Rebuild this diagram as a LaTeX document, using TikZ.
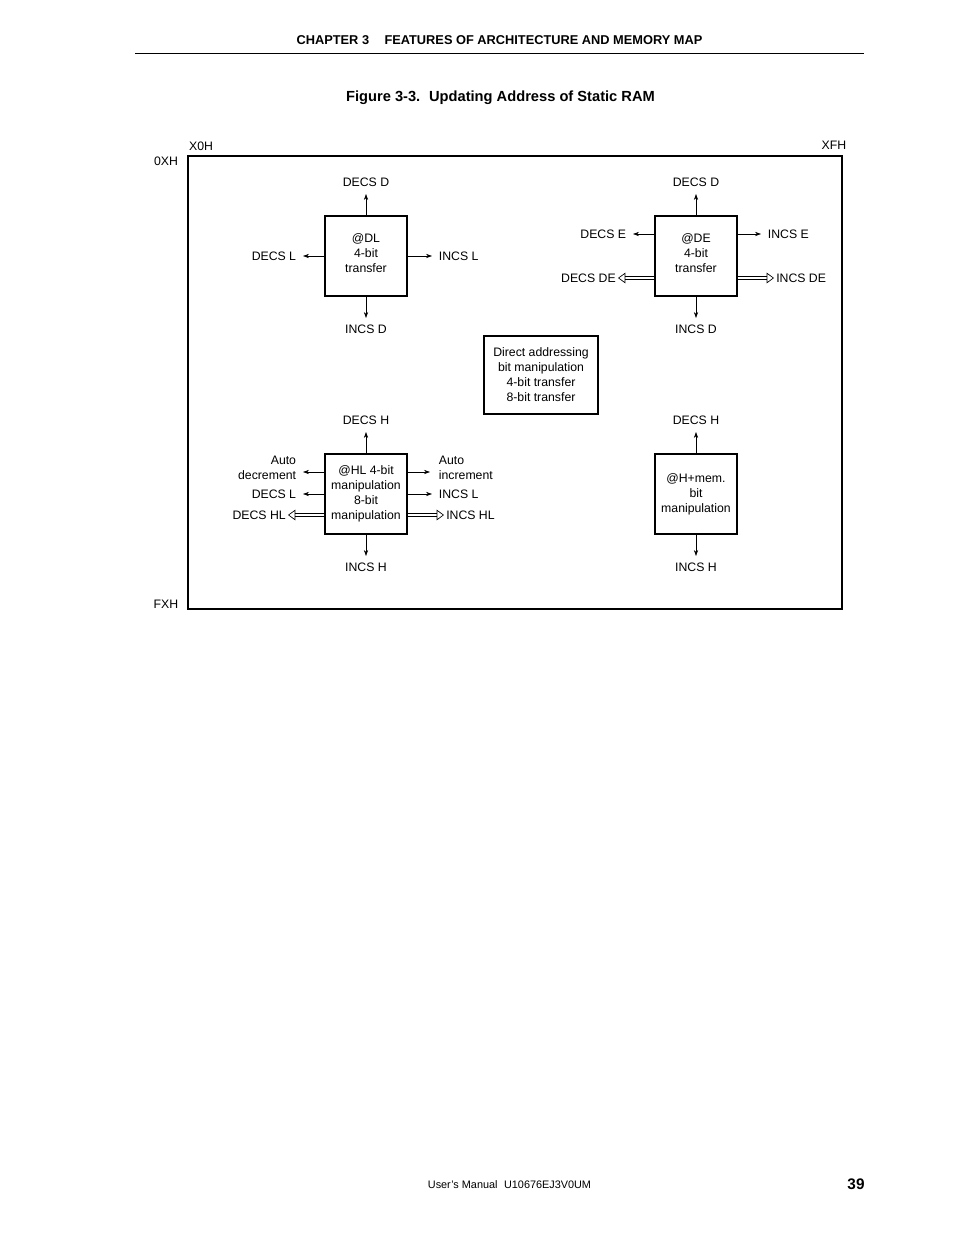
\documentclass[tikz,border=0pt]{standalone}
\usepackage{fontspec}
\setmainfont{Liberation Sans}
\usetikzlibrary{arrows.meta}

\tikzset{
  lbl/.style={inner sep=5pt, font=\fontsize{9.2}{11}\selectfont, align=center},
  tight/.style={inner sep=1.5pt},
  regbox/.style={draw, line width=1.1pt, minimum width=61.5pt, minimum height=60pt,
    inner sep=0pt, align=center, font=\fontsize{9.2}{11.25}\selectfont},
  arr/.style={-{Stealth[length=4.5pt,width=3.2pt]}, line width=0.5pt},
  hollow/.style={double, double distance=2pt, line width=0.6pt,
    -{Triangle[open, length=5.5pt, width=8pt, line width=0.5pt]}},
}

\begin{document}
\begin{tikzpicture}[x=0.75pt, y=-0.75pt]
  \useasboundingbox (0,0) rectangle (954,1235);
  % page header
  \node[font=\bfseries\fontsize{9.6}{11}\selectfont] (chap) at (499.5,40)
    {CHAPTER 3\hspace{1.2em}FEATURES OF ARCHITECTURE AND MEMORY MAP};
  \draw[line width=0.6pt] (135,53) -- (864,53);
  \node[font=\bfseries\fontsize{11}{13}\selectfont] (title) at (500.5,98)
    {Figure 3-3.\hspace{0.6em}Updating Address of Static RAM};
  % memory frame
  \draw[line width=1.2pt] (188,156) rectangle (842,609);
  \node[lbl, inner sep=0pt] (x0h) at (201,146) {X0H};
  \node[lbl, inner sep=0pt] (xfh) at (834,145) {XFH};
  \node[lbl, inner sep=0pt] (r0xh) at (166,161) {0XH};
  \node[lbl, inner sep=0pt] (rfxh) at (166,604) {FXH};
  % @DL
  \node[regbox, text depth=4.5pt] (dl) at (366,256) {@DL\\4-bit\\transfer};
  \node[lbl, anchor=south] (dlu) at (366,194) {DECS D};
  \node[lbl, anchor=north] (dld) at (366,318) {INCS D};
  \node[lbl, anchor=east] (dll) at (303,256) {DECS L};
  \node[lbl, anchor=west] (dlr) at (432,256) {INCS L};
  \draw[arr] (dl.north) -- (dlu.south);
  \draw[arr] (dl.south) -- (dld.north);
  \draw[arr] (dl.west) -- (dll.east);
  \draw[arr] (dl.east) -- (dlr.west);
  % @DE
  \node[regbox, text depth=4.5pt] (de) at (696,256) {@DE\\4-bit\\transfer};
  \node[lbl, anchor=south] (deu) at (696,194) {DECS D};
  \node[lbl, anchor=north] (ded) at (696,318) {INCS D};
  \node[lbl, anchor=east] (del) at (633,234) {DECS E};
  \node[lbl, anchor=west] (der) at (761,234) {INCS E};
  \node[lbl, tight, anchor=east] (dell) at (618,278) {DECS DE};
  \node[lbl, tight, anchor=west] (derr) at (774,278) {INCS DE};
  \draw[arr] (de.north) -- (deu.south);
  \draw[arr] (de.south) -- (ded.north);
  \draw[arr] (de.west |- del.east) -- (del.east);
  \draw[arr] (de.east |- der.west) -- (der.west);
  \draw[hollow] (de.west |- dell.east) -- (dell.east);
  \draw[hollow] (de.east |- derr.west) -- (derr.west);
  % direct addressing
  \node[draw, line width=1.1pt, minimum width=85.5pt, minimum height=58.5pt,
    align=center, font=\fontsize{9.2}{11.25}\selectfont] (dir) at (541,375)
    {Direct addressing\\bit manipulation\\4-bit transfer\\8-bit transfer};
  % @HL
  \node[regbox] (hl) at (366,494) {@HL 4-bit\\manipulation\\8-bit\\manipulation};
  \node[lbl, anchor=south] (hlu) at (366,432) {DECS H};
  \node[lbl, anchor=north] (hld) at (366,556) {INCS H};
  \node[lbl, align=right, anchor=east] (hlad) at (303,468) {Auto\\decrement};
  \node[lbl, align=left, anchor=west] (hlai) at (432,468) {Auto\\increment};
  \coordinate (adtip) at (303,472);
  \coordinate (aitip) at (430,472);
  \node[lbl, anchor=east] (hll) at (303,494) {DECS L};
  \node[lbl, anchor=west] (hlr) at (432,494) {INCS L};
  \node[lbl, tight, anchor=east] (hlll) at (288,515) {DECS HL};
  \node[lbl, tight, anchor=west] (hlrr) at (444,515) {INCS HL};
  \draw[arr] (hl.north) -- (hlu.south);
  \draw[arr] (hl.south) -- (hld.north);
  \draw[arr] (hl.west |- adtip) -- (adtip);
  \draw[arr] (hl.east |- aitip) -- (aitip);
  \draw[arr] (hl.west) -- (hll.east);
  \draw[arr] (hl.east) -- (hlr.west);
  \draw[hollow] (hl.west |- hlll.east) -- (hlll.east);
  \draw[hollow] (hl.east |- hlrr.west) -- (hlrr.west);
  % @H+mem.
  \node[regbox] (hm) at (696,494) {@H+mem.\\bit\\manipulation};
  \node[lbl, anchor=south] (hmu) at (696,432) {DECS H};
  \node[lbl, anchor=north] (hmd) at (696,556) {INCS H};
  \draw[arr] (hm.north) -- (hmu.south);
  \draw[arr] (hm.south) -- (hmd.north);
  % page footer
  \node[font=\fontsize{8.15}{10}\selectfont] (foot) at (509.5,1185)
    {User's Manual\hspace{0.6em}U10676EJ3V0UM};
  \node[font=\bfseries\fontsize{11.5}{13}\selectfont] (pg) at (856,1184) {39};
\end{tikzpicture}
\end{document}
